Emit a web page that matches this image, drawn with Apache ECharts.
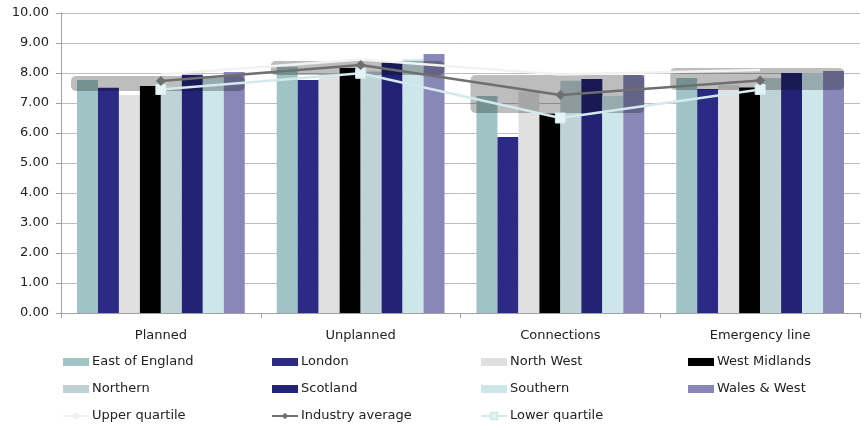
<!DOCTYPE html>
<html>
	<head>
		<meta charset="utf-8">
		<title>Chart</title>
		<style type="text/css">
			html,body{margin:0;padding:0;background:#fff;}
			#main{width:864px;height:430px;}
		</style>
	</head>
	<body>
		<div id="main"></div>
	<script src="https://cdn.jsdelivr.net/npm/echarts@6/dist/echarts.min.js"></script>
	<script type="text/javascript">
		var categories = ['Planned', 'Unplanned', 'Connections', 'Emergency line'];
		var yTicks = [0, 1, 2, 3, 4, 5, 6, 7, 8, 9, 10];

		var eastOfEngland = [7.77, 8.21, 7.23, 7.83];
		var london = [7.51, 7.77, 5.87, 7.47];
		var northWest = [7.27, 7.98, 7.38, 7.6];
		var westMidlands = [7.57, 8.17, 6.65, 7.52];
		var northern = [7.5, 8.05, 7.74, 7.83];
		var scotland = [7.94, 8.34, 7.8, 8.0];
		var southern = [7.85, 8.46, 7.23, 8.0];
		var walesWest = [8.03, 8.63, 7.93, 8.07];

		var upperQuartile = [7.95, 8.45, 7.95, 8.1];
		var industryAverage = [7.73, 8.27, 7.27, 7.75];
		var lowerQuartile = [7.45, 7.99, 6.5, 7.45];

		// grey highlight boxes (low, high)
		var boxLow = [7.4, 7.93, 6.67, 7.43];
		var boxHigh = [7.9, 8.4, 7.93, 8.17];

		var bars = [
			['East of England', eastOfEngland, '#a0c4c6'],
			['London', london, '#2b2b85'],
			['North West', northWest, '#e0e0e0'],
			['West Midlands', westMidlands, '#000000'],
			['Northern', northern, '#bfd2d5'],
			['Scotland', scotland, '#232375'],
			['Southern', southern, '#cce6ea'],
			['Wales & West', walesWest, '#8888b8']
		];

		var chart = echarts.init(document.getElementById('main'));
		var series = [];
		for (var i = 0; i < bars.length; i++) {
			series.push({
				name: bars[i][0],
				type: 'bar',
				data: bars[i][1],
				barGap: 0,
				barCategoryGap: '16%',
				itemStyle: {color: bars[i][2]},
				z: 2
			});
		}

		var boxData = [];
		for (var j = 0; j < categories.length; j++) {
			boxData.push([j, boxLow[j], boxHigh[j]]);
		}
		series.push({
			name: 'box',
			type: 'custom',
			data: boxData,
			encode: {x: 0, y: [1, 2]},
			z: 3,
			silent: true,
			renderItem: function(params, api) {
				var top = api.coord([api.value(0), api.value(2)]);
				var bottom = api.coord([api.value(0), api.value(1)]);
				var w = api.size([1, 0])[0] * 0.87;
				return {
					type: 'rect',
					shape: {x: top[0] - w / 2 - 3, y: top[1], width: w, height: bottom[1] - top[1], r: 5},
					style: {fill: 'rgba(0,0,0,0.26)'}
				};
			}
		});

		series.push({
			name: 'Upper quartile',
			type: 'line',
			data: upperQuartile,
			symbol: 'none',
			lineStyle: {color: '#f2f2f2', width: 2.5},
			itemStyle: {color: '#f2f2f2'},
			z: 4
		});
		series.push({
			name: 'Industry average',
			type: 'line',
			data: industryAverage,
			symbol: 'diamond',
			symbolSize: 10,
			lineStyle: {color: '#6f6f6f', width: 2.5},
			itemStyle: {color: '#6f6f6f'},
			z: 5
		});
		series.push({
			name: 'Lower quartile',
			type: 'line',
			data: lowerQuartile,
			symbol: 'rect',
			symbolSize: 10,
			lineStyle: {color: '#d2eaec', width: 2.5},
			itemStyle: {color: '#e6f3f4', borderColor: '#d2eaec', borderWidth: 1},
			z: 4
		});

		var font = 'DejaVu Sans';
		function col(left, names) {
			var data = [];
			for (var k = 0; k < names.length; k++) {
				var item = {name: names[k]};
				if (names[k].indexOf('quartile') < 0 && names[k] != 'Industry average') {
					item.icon = 'rect';
				}
				data.push(item);
			}
			return {
				left: left,
				top: 355,
				height: 75,
				padding: 0,
				orient: 'vertical',
				itemWidth: 26,
				itemHeight: 8,
				itemGap: 13,
				data: data,
				textStyle: {fontFamily: font, fontSize: 13, color: '#222', lineHeight: 14, padding: [0, 0, 0, -2]}
			};
		}

		var option = {
			animation: false,
			backgroundColor: '#fff',
			grid: {left: 61, right: 4, top: 13, bottom: 117},
			legend: [
				col(62, ['East of England', 'Northern', 'Upper quartile']),
				col(271, ['London', 'Scotland', 'Industry average']),
				col(480, ['North West', 'Southern', 'Lower quartile']),
				col(688, ['West Midlands', 'Wales & West'])
			],
			xAxis: {
				type: 'category',
				data: categories,
				axisLine: {lineStyle: {color: '#a0a0a0'}},
				axisTick: {show: true, length: 5, lineStyle: {color: '#a0a0a0'}},
				axisLabel: {fontFamily: font, fontSize: 13, color: '#222', margin: 16}
			},
			yAxis: {
				type: 'value',
				min: yTicks[0],
				max: yTicks[yTicks.length - 1],
				interval: 1,
				axisLine: {show: true, lineStyle: {color: '#a0a0a0'}},
				axisTick: {show: true, length: 5, lineStyle: {color: '#a0a0a0'}},
				splitLine: {lineStyle: {color: '#bdbdbd'}},
				axisLabel: {
					fontFamily: font, fontSize: 13, color: '#222', margin: 12,
					formatter: function(v) { return v.toFixed(2); }
				}
			},
			series: series
		};
		chart.setOption(option);
	</script>
</body>
</html>
